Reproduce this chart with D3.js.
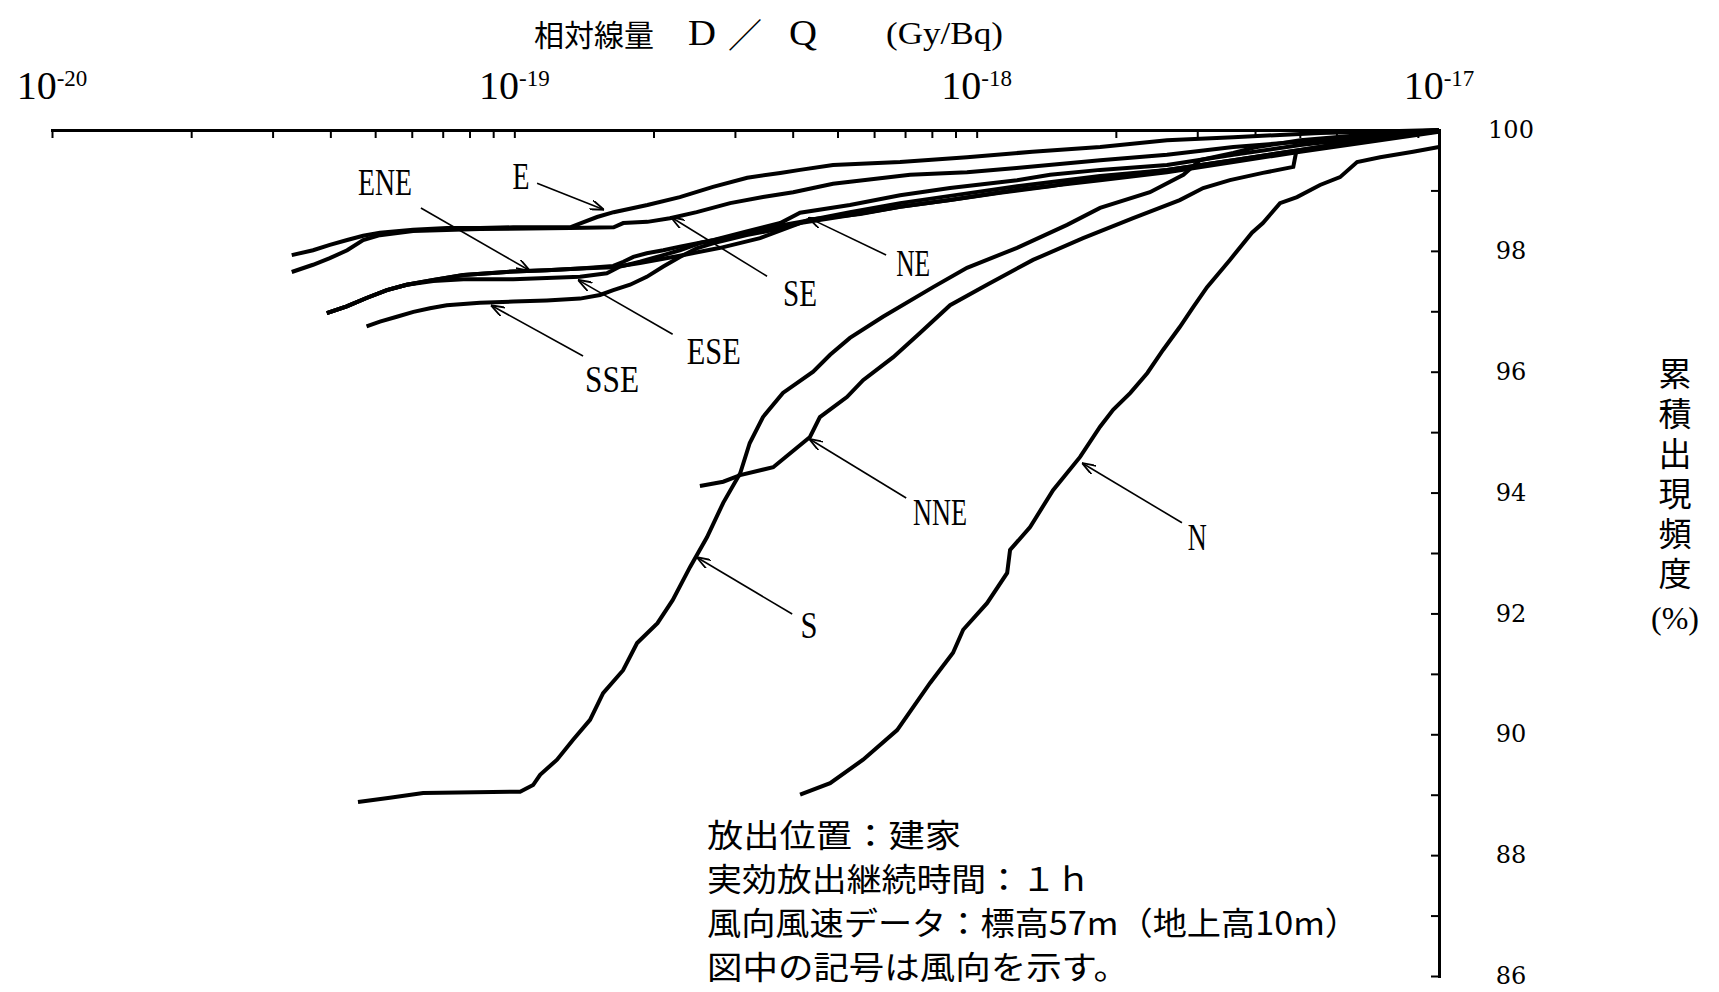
<!DOCTYPE html>
<html lang="ja">
<head><meta charset="utf-8"/>
<script src="https://cdn.jsdelivr.net/npm/d3@7"></script>
<style>
body { margin: 0; background: #fff; }
.curve { fill: none; stroke: #000; stroke-width: 4px; stroke-linejoin: miter; }
.axis path { stroke: #000; stroke-width: 3px; stroke-linecap: square; }
.axis line { stroke: #000; stroke-width: 2px; }
.serif { font-family: "Liberation Serif", "DejaVu Serif", serif; }
.jp { font-family: "Noto Sans CJK JP", sans-serif; }
</style>
</head>
<body>
<svg id="chart" width="1719" height="992"></svg>
<script>
// cumulative frequency curves, [D (Gy/Bq), percent]
var dirE = [[3.30e-20,97.93],[3.67e-20,98.01],[3.99e-20,98.10],[4.35e-20,98.18],[4.71e-20,98.25],[5.12e-20,98.30],[6.04e-20,98.35],[7.15e-20,98.38],[8.43e-20,98.38],[9.94e-20,98.39],[1.32e-19,98.39],[1.51e-19,98.56],[1.64e-19,98.64],[1.94e-19,98.76],[2.28e-19,98.89],[2.69e-19,99.06],[3.19e-19,99.21],[3.76e-19,99.29],[4.15e-19,99.34],[4.89e-19,99.42],[6.83e-19,99.47],[9.53e-19,99.55],[1.32e-18,99.64],[1.85e-18,99.72],[2.58e-18,99.83],[3.59e-18,99.88],[5.53e-18,99.95],[1e-17,100]];
var dirSE = [[3.30e-20,97.65],[3.67e-20,97.77],[3.99e-20,97.88],[4.35e-20,98.01],[4.71e-20,98.18],[5.12e-20,98.26],[6.04e-20,98.33],[8.43e-20,98.36],[1.32e-19,98.38],[1.64e-19,98.39],[1.72e-19,98.46],[1.94e-19,98.48],[2.17e-19,98.54],[2.48e-19,98.64],[2.93e-19,98.79],[3.45e-19,98.89],[4.01e-19,98.97],[4.89e-19,99.11],[7.18e-19,99.26],[9.53e-19,99.30],[1.22e-18,99.37],[1.85e-18,99.50],[2.58e-18,99.59],[3.59e-18,99.72],[5.53e-18,99.83],[8.24e-18,99.95],[1e-17,99.98]];
var dirENE = [[3.93e-20,96.97],[4.34e-20,97.08],[4.79e-20,97.22],[5.30e-20,97.35],[5.85e-20,97.44],[6.68e-20,97.52],[7.76e-20,97.60],[9.95e-20,97.66],[1.175e-19,97.68],[1.387e-19,97.71],[1.637e-19,97.75],[1.721e-19,97.82],[1.809e-19,97.90],[1.934e-19,97.96],[2.10e-19,98.01],[2.28e-19,98.07],[2.70e-19,98.18],[3.18e-19,98.32],[3.76e-19,98.46],[4.15e-19,98.63],[5.32e-19,98.76],[6.83e-19,98.92],[8.76e-19,99.04],[1.223e-18,99.17],[1.442e-18,99.26],[1.849e-18,99.34],[2.58e-18,99.42],[3.59e-18,99.59],[5.01e-18,99.75],[7.46e-18,99.90],[1e-17,100]];
var dirESE = [[3.93e-20,96.97],[4.34e-20,97.08],[4.79e-20,97.22],[5.30e-20,97.35],[5.85e-20,97.44],[6.68e-20,97.50],[7.76e-20,97.53],[9.95e-20,97.53],[1.175e-19,97.55],[1.387e-19,97.57],[1.585e-19,97.63],[1.693e-19,97.74],[1.870e-19,97.82],[2.10e-19,97.93],[2.28e-19,98.01],[2.52e-19,98.13],[2.93e-19,98.23],[3.46e-19,98.37],[4.15e-19,98.48],[5.32e-19,98.64],[6.83e-19,98.79],[8.76e-19,98.91],[1.223e-18,99.07],[1.849e-18,99.24],[2.58e-18,99.34],[3.59e-18,99.50],[5.01e-18,99.67],[7.46e-18,99.87],[1e-17,99.98]];
var dirNE = [[3.93e-20,96.97],[4.34e-20,97.08],[4.79e-20,97.22],[5.30e-20,97.35],[5.85e-20,97.44],[6.68e-20,97.52],[7.76e-20,97.60],[9.95e-20,97.66],[1.175e-19,97.68],[1.387e-19,97.71],[1.636e-19,97.73],[1.870e-19,97.80],[2.28e-19,97.92],[2.79e-19,98.05],[3.40e-19,98.21],[4.36e-19,98.52],[5.60e-19,98.61],[6.83e-19,98.73],[8.76e-19,98.84],[1.124e-18,98.96],[1.442e-18,99.07],[1.849e-18,99.21],[2.58e-18,99.34],[3.59e-18,99.50],[5.01e-18,99.67],[7.46e-18,99.87],[1e-17,99.98]];
var dirSSE = [[4.79e-20,96.75],[5.12e-20,96.83],[5.57e-20,96.91],[6.05e-20,96.99],[6.57e-20,97.05],[7.14e-20,97.10],[8.43e-20,97.14],[9.95e-20,97.16],[1.175e-19,97.18],[1.387e-19,97.21],[1.532e-19,97.27],[1.637e-19,97.35],[1.780e-19,97.44],[1.934e-19,97.57],[2.10e-19,97.74],[2.28e-19,97.90],[2.48e-19,98.04],[2.70e-19,98.13],[3.18e-19,98.26],[3.76e-19,98.37],[4.15e-19,98.46],[5.32e-19,98.59],[6.83e-19,98.73],[8.76e-19,98.84],[1.223e-18,99.01],[1.849e-18,99.17],[2.58e-18,99.30],[3.59e-18,99.47],[5.01e-18,99.64],[7.46e-18,99.83],[1e-17,99.97]];
var dirNNE = [[2.52e-19,94.11],[2.83e-19,94.18],[3.08e-19,94.29],[3.63e-19,94.42],[4.36e-19,94.92],[4.58e-19,95.25],[5.24e-19,95.58],[5.68e-19,95.86],[6.60e-19,96.24],[7.54e-19,96.64],[8.76e-19,97.10],[1.053e-18,97.44],[1.324e-18,97.85],[1.699e-18,98.21],[2.18e-18,98.54],[2.75e-18,98.84],[3.09e-18,99.04],[3.53e-18,99.17],[4.16e-18,99.29],[4.84e-18,99.39],[4.91e-18,99.64],[5.61e-18,99.72],[6.75e-18,99.92],[1e-17,99.97]];
var dirS = [[4.59e-20,88.88],[5.38e-20,88.95],[6.35e-20,89.03],[1.029e-19,89.05],[1.098e-19,89.16],[1.137e-19,89.33],[1.237e-19,89.58],[1.340e-19,89.91],[1.458e-19,90.24],[1.556e-19,90.68],[1.719e-19,91.06],[1.843e-19,91.51],[2.04e-19,91.84],[2.20e-19,92.22],[2.40e-19,92.77],[2.61e-19,93.26],[2.83e-19,93.83],[3.08e-19,94.32],[3.23e-19,94.82],[3.45e-19,95.25],[3.81e-19,95.65],[4.43e-19,96.00],[4.82e-19,96.28],[5.32e-19,96.56],[6.27e-19,96.91],[8.05e-19,97.40],[9.53e-19,97.72],[1.223e-18,98.05],[1.569e-18,98.43],[1.849e-18,98.71],[2.37e-18,98.97],[2.80e-18,99.26],[3.04e-18,99.50],[3.59e-18,99.62],[4.04e-18,99.72],[5.01e-18,99.83],[7.10e-18,99.93],[1e-17,100]];
var dirN = [[4.15e-19,89.00],[4.82e-19,89.19],[5.68e-19,89.58],[6.73e-19,90.07],[7.29e-19,90.45],[7.93e-19,90.85],[8.89e-19,91.35],[9.35e-19,91.73],[1.053e-18,92.17],[1.164e-18,92.67],[1.181e-18,93.05],[1.305e-18,93.43],[1.463e-18,94.04],[1.674e-18,94.59],[1.849e-18,95.09],[1.973e-18,95.37],[2.15e-18,95.65],[2.34e-18,95.98],[2.53e-18,96.36],[2.75e-18,96.74],[2.94e-18,97.07],[3.15e-18,97.40],[3.53e-18,97.85],[3.94e-18,98.30],[4.16e-18,98.46],[4.53e-18,98.79],[4.93e-18,98.89],[5.53e-18,99.09],[6.11e-18,99.22],[6.65e-18,99.47],[7.46e-18,99.55],[8.79e-18,99.64],[1e-17,99.72]];

var curves = [dirE, dirSE, dirENE, dirESE, dirNE, dirSSE, dirNNE, dirS, dirN];

// label: name, arrow tip, arrow tail, text anchor (all in data units), text width
var labels = [
  ["E",   [1.563e-19,98.68], [1.120e-19,99.12], [1.034e-19,99.02], 17],
  ["ENE", [1.081e-19,97.67], [6.28e-20,98.71],  [5.25e-20,98.92],  54],
  ["SE",  [2.18e-19,98.56],  [3.52e-19,97.58],  [4.15e-19,97.09],  34],
  ["NE",  [4.32e-19,98.55],  [6.37e-19,97.93],  [7.29e-19,97.58],  34],
  ["ESE", [1.373e-19,97.52], [2.20e-19,96.62],  [2.70e-19,96.13],  54],
  ["SSE", [8.90e-20,97.10],  [1.408e-19,96.26], [1.627e-19,95.66], 54],
  ["NNE", [4.34e-19,94.89],  [7.04e-19,93.91],  [8.33e-19,93.46],  54],
  ["N",   [1.690e-18,94.49], [2.78e-18,93.50],  [3.00e-18,93.05],  19],
  ["S",   [2.48e-19,92.93],  [3.99e-19,91.99],  [4.34e-19,91.59],  17]
];

var decades = [-20, -19, -18, -17];
var yTicks = d3.range(86, 101, 1);
var notes = ["放出位置：建家", "実効放出継続時間：１ｈ", "風向風速データ：標高57m（地上高10m）", "図中の記号は風向を示す。"];
var noteWidths = [254, 384, 652, 422];
var yTitle = "累積出現頻度";

var svg = d3.select("#chart");
svg.append("rect").attr("width", 1719).attr("height", 992).attr("fill", "#fff");

var x = d3.scaleLog().domain([1e-20, 1e-17]).range([52, 1439]);
var y = d3.scaleLinear().domain([86, 100]).range([976, 130]);

svg.append("defs").append("marker")
  .attr("id", "arr").attr("markerUnits", "userSpaceOnUse")
  .attr("viewBox", "0 0 14 10").attr("refX", 14).attr("refY", 5)
  .attr("markerWidth", 14).attr("markerHeight", 10).attr("orient", "auto")
  .append("path").attr("d", "M0,0L14,5L0,10")
  .attr("fill", "none").attr("stroke", "#000").attr("stroke-width", 1.8);

// top log axis, ticks pointing down
var xTicks = [];
decades.slice(0, 3).forEach(function(e){
  for (var m = 1; m < 10; m++) xTicks.push(m * Math.pow(10, e));
});
xTicks.push(1e-17);

svg.append("g").attr("class", "axis").attr("transform", "translate(0,130)")
  .call(d3.axisTop(x).tickValues(xTicks).tickSizeInner(-8).tickSizeOuter(0).tickFormat(""));

var xl = svg.append("g").attr("class", "serif");
decades.forEach(function(e){
  var t = xl.append("text").attr("x", x(Math.pow(10, e))).attr("y", 99)
    .attr("text-anchor", "middle");
  t.append("tspan").attr("font-size", 40).text("10");
  t.append("tspan").attr("font-size", 23).attr("dy", -13).text(String(e));
});

// right percent axis, ticks pointing left
var ya = svg.append("g").attr("class", "axis").attr("transform", "translate(1439,0)")
  .call(d3.axisRight(y).tickValues(yTicks).tickSizeInner(-8).tickSizeOuter(0)
    .tickPadding(72).tickFormat(function(d){ return d % 2 === 0 ? d : ""; }));
ya.selectAll("text").attr("text-anchor", "middle")
  .attr("font-family", "'DejaVu Serif', serif").attr("font-size", 24).attr("fill", "#000");

// curves
var line = d3.line().x(function(d){ return x(d[0]); }).y(function(d){ return y(d[1]); });
svg.append("g").selectAll("path").data(curves).enter().append("path")
  .attr("class", "curve").attr("d", line);

// direction labels with arrows
var lg = svg.append("g");
labels.forEach(function(l){
  lg.append("line")
    .attr("x1", x(l[2][0])).attr("y1", y(l[2][1]))
    .attr("x2", x(l[1][0])).attr("y2", y(l[1][1]))
    .attr("stroke", "#000").attr("stroke-width", 1.6).attr("marker-end", "url(#arr)");
  lg.append("text").attr("class", "serif")
    .attr("x", x(l[3][0])).attr("y", y(l[3][1]))
    .attr("text-anchor", "middle").attr("font-size", 38)
    .attr("textLength", l[4]).attr("lengthAdjust", "spacingAndGlyphs")
    .text(l[0]);
});

// axis titles
var tt = svg.append("g");
tt.append("text").attr("class", "jp").attr("x", 534).attr("y", 33)
  .attr("dominant-baseline", "central").attr("font-size", 30).text("相対線量");
tt.append("text").attr("class", "serif").attr("x", 702).attr("y", 45)
  .attr("text-anchor", "middle").attr("font-size", 36)
  .attr("textLength", 28).attr("lengthAdjust", "spacingAndGlyphs").text("D");
tt.append("text").attr("class", "jp").attr("x", 745).attr("y", 33)
  .attr("text-anchor", "middle").attr("dominant-baseline", "central").attr("font-size", 34).text("／");
tt.append("text").attr("class", "serif").attr("x", 803).attr("y", 45)
  .attr("text-anchor", "middle").attr("font-size", 36)
  .attr("textLength", 28).attr("lengthAdjust", "spacingAndGlyphs").text("Q");
tt.append("text").attr("class", "serif").attr("x", 886).attr("y", 44)
  .attr("font-size", 32).attr("textLength", 117).attr("lengthAdjust", "spacingAndGlyphs")
  .text("(Gy/Bq)");

// vertical y title, one run of text
tt.append("text").attr("class", "jp").attr("x", 1675).attr("y", 357)
  .style("writing-mode", "vertical-rl").style("letter-spacing", "7px")
  .attr("font-size", 33).text(yTitle);
tt.append("text").attr("class", "serif").attr("x", 1675).attr("y", 618)
  .attr("text-anchor", "middle").attr("dominant-baseline", "central")
  .attr("font-size", 32).text("(%)");

// notes block
notes.forEach(function(s, i){
  tt.append("text").attr("class", "jp").attr("x", 707).attr("y", 833 + i * 44)
    .attr("dominant-baseline", "central").attr("font-size", 32)
    .attr("textLength", noteWidths[i]).attr("lengthAdjust", "spacingAndGlyphs").text(s);
});
</script>
</body>
</html>
